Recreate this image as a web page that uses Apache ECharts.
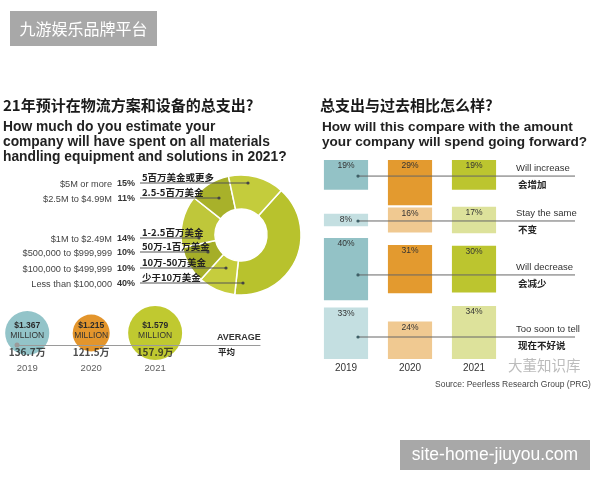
<!DOCTYPE html>
<html>
<head>
<meta charset="utf-8">
<title>物流方案和设备支出</title>
<script src="https://cdn.jsdelivr.net/npm/echarts@6/dist/echarts.min.js"></script>
<style>
html, body { margin: 0; padding: 0; background: #fff; }
#chart { width: 600px; height: 480px; }
</style>
</head>
<body>
<div id="chart"></div>
<script>
// 2021 预计总支出（环形图），顺时针从右上开始
var spendBrackets = ['Less than $100,000', '$100,000 to $499,999', '$500,000 to $999,999', '$1M to $2.49M', '$2.5M to $4.99M', '$5M or more'];
var spendBracketsCn = ['少于10万美金', '10万-50万美金', '50万-1百万美金', '1-2.5百万美金', '2.5-5百万美金', '5百万美金或更多'];
var spendShare = [40, 10, 10, 14, 11, 15];

// 平均支出（百万美元）
var avgYears = ['2019', '2020', '2021'];
var avgSpend = [1.367, 1.215, 1.579];
var avgSpendCn = ['136.7万', '121.5万', '157.9万'];

// 与过去相比
var outlookYears = ['2019', '2020', '2021'];
var outlookAnswers = ['Will increase', 'Stay the same', 'Will decrease', 'Too soon to tell'];
var outlookAnswersCn = ['会增加', '不变', '会减少', '现在不好说'];
var willIncrease = [19, 29, 19];
var staySame = [8, 16, 17];
var willDecrease = [40, 31, 30];
var tooSoon = [33, 24, 34];

// 样式 / 布局
var EN = 'Liberation Sans, Arial, sans-serif';
var CN = 'Noto Sans CJK SC, sans-serif';
var sliceColors = ['#b8c22d', '#c6cd3d', '#a5ae28', '#bfc73a', '#a8b12a', '#c4cc3c'];
var labelLineY = [283, 268, 252, 238, 198, 183];
var labelDotX = [243, 226, 208, 199, 219, 248];
var avgColors = ['#93c4c9', '#e3952c', '#c0c930'];
var boxColors = [['#93c2c6', '#e39a2f', '#bcc52f'], ['#c4dfe1', '#f0c991', '#dde29b']];
var boxSpan = 127.6;              // 纵轴总长（百分点）
var rowMid = [0, 38.5, 70, 0];    // 中间两行的中心
var rowLineAt = [10.3, 39.1, 73.7, 113.5];

var outlookRows = [willIncrease, staySame, willDecrease, tooSoon];
var boxData = [];
outlookRows.forEach(function (vals, r) {
  vals.forEach(function (v, c) { boxData.push([c, r, v]); });
});

function boxTop(r, v) {
  if (r === 0) return 0;
  if (r === outlookRows.length - 1) return boxSpan - v;
  return rowMid[r] - v / 2;
}

var chart = echarts.init(document.getElementById('chart'));

var option = {
  backgroundColor: '#fff',
  animation: false,
  title: [
    {
      text: '21年预计在物流方案和设备的总支出?',
      left: 3, top: 96, padding: 0,
      textStyle: { fontFamily: CN, fontSize: 15, fontWeight: 'bold', color: '#1a1a1a', lineHeight: 18 }
    },
    {
      text: 'How much do you estimate your\ncompany will have spent on all materials\nhandling equipment and solutions in 2021?',
      left: 3, top: 120, padding: 0,
      textStyle: { fontFamily: EN, fontSize: 13.8, fontWeight: 'bold', color: '#222', lineHeight: 15 }
    },
    {
      text: '总支出与过去相比怎么样?',
      left: 320, top: 96, padding: 0,
      textStyle: { fontFamily: CN, fontSize: 15, fontWeight: 'bold', color: '#1a1a1a', lineHeight: 18 }
    },
    {
      text: 'How will this compare with the amount\nyour company will spend going forward?',
      left: 322, top: 120, padding: 0,
      textStyle: { fontFamily: EN, fontSize: 13.6, fontWeight: 'bold', color: '#222', lineHeight: 15 }
    }
  ],
  grid: [
    { left: 0, top: 0, width: 600, height: 480 },
    { left: 314, top: 160, width: 192, height: 199 },
    { left: 17, top: 321, width: 243, height: 24 }
  ],
  xAxis: [
    { gridIndex: 0, type: 'value', min: 0, max: 600, show: false },
    {
      gridIndex: 1, type: 'category', data: outlookYears,
      axisLine: { show: false }, axisTick: { show: false },
      axisLabel: { margin: 4, fontFamily: EN, fontSize: 10, color: '#333' }
    },
    {
      gridIndex: 2, type: 'value', min: 2018.84, max: 2022.64, z: 5,
      axisLine: {
        show: true, onZero: false,
        symbol: ['circle', 'none'], symbolSize: [5, 5],
        lineStyle: { color: '#9a9a9a', width: 1.2 }
      },
      axisTick: { show: false }, axisLabel: { show: false }, splitLine: { show: false }
    }
  ],
  yAxis: [
    { gridIndex: 0, type: 'value', min: 0, max: 480, inverse: true, show: false },
    { gridIndex: 1, type: 'value', min: 0, max: boxSpan, inverse: true, show: false },
    { gridIndex: 2, type: 'value', min: -1, max: 1, show: false }
  ],
  visualMap: {
    type: 'continuous', show: false, seriesIndex: 4, dimension: 2,
    min: Math.min.apply(null, avgSpend), max: Math.max.apply(null, avgSpend),
    inRange: { symbolSize: [37, 54] }
  },
  series: [
    {
      type: 'pie',
      center: [241, 235],
      radius: [26, 60],
      startAngle: 48,
      clockwise: true,
      silent: true,
      label: { show: false },
      labelLine: { show: false },
      itemStyle: { borderColor: '#fff', borderWidth: 1.5 },
      data: spendShare.map(function (v, i) {
        return { name: spendBrackets[i], value: v, itemStyle: { color: sliceColors[i] } };
      })
    },
    {
      // 左侧标签与引线
      type: 'custom', xAxisIndex: 0, yAxisIndex: 0, z: 5, silent: true,
      data: spendShare.map(function (v, i) { return [labelDotX[i], labelLineY[i], v]; }),
      renderItem: function (params, api) {
        var i = params.dataIndex;
        var dot = api.coord([api.value(0), api.value(1)]);
        var y = dot[1];
        var start = api.coord([140, api.value(1)])[0];
        return {
          type: 'group',
          children: [
            { type: 'text', x: start - 28, y: y + 1, style: { text: spendBrackets[i], fill: '#444', fontFamily: EN, fontSize: 9.2, align: 'right', verticalAlign: 'middle' } },
            { type: 'text', x: start - 5, y: y + 1, style: { text: api.value(2) + '%', fill: '#333', fontFamily: EN, fontSize: 9, fontWeight: 'bold', align: 'right', verticalAlign: 'middle' } },
            { type: 'text', x: start + 2, y: y - 6, style: { text: spendBracketsCn[i], fill: '#222', fontFamily: CN, fontSize: 9.5, fontWeight: 'bold', align: 'left', verticalAlign: 'middle' } },
            { type: 'line', shape: { x1: start, y1: y, x2: dot[0], y2: y }, style: { stroke: '#555', lineWidth: 1 } },
            { type: 'circle', shape: { cx: dot[0], cy: y, r: 1.6 }, style: { fill: '#444' } }
          ]
        };
      }
    },
    {
      // 方块
      type: 'custom', xAxisIndex: 1, yAxisIndex: 1, z: 2, silent: true,
      data: boxData,
      renderItem: function (params, api) {
        var c = api.value(0), r = api.value(1), v = api.value(2);
        var t = boxTop(r, v);
        var p0 = api.coord([c, t]);
        var p1 = api.coord([c, t + v]);
        var w = api.size([1, 0])[0] * 0.69;
        return {
          type: 'group',
          children: [
            { type: 'rect', shape: { x: p0[0] - w / 2, y: p0[1], width: w, height: p1[1] - p0[1] }, style: { fill: boxColors[r % 2][c] } },
            { type: 'text', x: p0[0], y: p0[1] + 6, style: { text: v + '%', fill: '#333', fontFamily: EN, fontSize: 8.5, align: 'center', verticalAlign: 'middle' } }
          ]
        };
      }
    },
    {
      // 行引线
      type: 'custom', xAxisIndex: 1, yAxisIndex: 1, z: 4, silent: true,
      data: outlookAnswers.map(function (a, i) { return [0, rowLineAt[i]]; }),
      renderItem: function (params, api) {
        var i = params.dataIndex;
        var p = api.coord([api.value(0), api.value(1)]);
        var x0 = p[0] + 12, y = p[1];
        return {
          type: 'group',
          children: [
            { type: 'line', shape: { x1: x0, y1: y, x2: 575, y2: y }, style: { stroke: '#666', lineWidth: 1 } },
            { type: 'circle', shape: { cx: x0, cy: y, r: 1.6 }, style: { fill: '#3e5f66' } },
            { type: 'text', x: 516, y: y - 8, style: { text: outlookAnswers[i], fill: '#333', fontFamily: EN, fontSize: 9.5, align: 'left', verticalAlign: 'middle' } },
            { type: 'text', x: 518, y: y + 8, style: { text: outlookAnswersCn[i], fill: '#222', fontFamily: CN, fontSize: 9.5, fontWeight: 'bold', align: 'left', verticalAlign: 'middle' } }
          ]
        };
      }
    },
    {
      // 平均支出圆
      type: 'scatter', xAxisIndex: 2, yAxisIndex: 2, z: 2, silent: true,
      data: avgYears.map(function (y, i) { return [+y, 0, avgSpend[i]]; }),
      itemStyle: { color: function (p) { return avgColors[p.dataIndex]; }, opacity: 1 },
      label: {
        show: true, position: 'inside', offset: [0, -2],
        formatter: function (p) { return '{v|$' + p.value[2].toFixed(3) + '}\n{m|MILLION}'; },
        rich: {
          v: { fontFamily: EN, fontSize: 8.5, fontWeight: 'bold', color: '#2a2a2a', lineHeight: 10 },
          m: { fontFamily: EN, fontSize: 8.5, color: '#333', lineHeight: 10 }
        }
      }
    },
    {
      // 圆下方的文字
      type: 'scatter', xAxisIndex: 2, yAxisIndex: 2, z: 6, silent: true,
      symbolSize: 1,
      itemStyle: { color: 'rgba(0,0,0,0)' },
      data: avgYears.map(function (y, i) { return [+y, 0]; }),
      label: {
        show: true, position: 'inside', offset: [0, 27],
        formatter: function (p) { return '{c|' + avgSpendCn[p.dataIndex] + '}\n{y|' + avgYears[p.dataIndex] + '}'; },
        rich: {
          c: { fontFamily: CN, fontSize: 10, fontWeight: 'bold', color: '#222', lineHeight: 16 },
          y: { fontFamily: EN, fontSize: 9.5, color: '#333', lineHeight: 16 }
        }
      }
    }
  ],
  graphic: [
    { type: 'text', x: 217, y: 338, style: { text: 'AVERAGE', fill: '#333', fontFamily: EN, fontSize: 9, fontWeight: 'bold', verticalAlign: 'middle' } },
    { type: 'text', x: 218, y: 352, style: { text: '平均', fill: '#222', fontFamily: CN, fontSize: 8.5, fontWeight: 'bold', verticalAlign: 'middle' } },
    { type: 'text', x: 435, y: 385, style: { text: 'Source: Peerless Research Group (PRG)', fill: '#444', fontFamily: EN, fontSize: 8.5, verticalAlign: 'middle' } },
    { type: 'text', x: 508, y: 365, style: { text: '大董知识库', fill: '#bcbcbc', fontFamily: CN, fontSize: 14.5, verticalAlign: 'middle' } },
    { type: 'rect', shape: { x: 10, y: 11, width: 147, height: 35 }, style: { fill: '#a8a8a8' } },
    { type: 'text', x: 83.5, y: 29, style: { text: '九游娱乐品牌平台', fill: '#fff', fontFamily: CN, fontSize: 16, align: 'center', verticalAlign: 'middle' } },
    { type: 'rect', shape: { x: 400, y: 440, width: 190, height: 30 }, style: { fill: '#a8a8a8' } },
    { type: 'text', x: 495, y: 455, style: { text: 'site-home-jiuyou.com', fill: '#fff', fontFamily: EN, fontSize: 17.5, align: 'center', verticalAlign: 'middle' } }
  ]
};

chart.setOption(option);
</script>
</body>
</html>
